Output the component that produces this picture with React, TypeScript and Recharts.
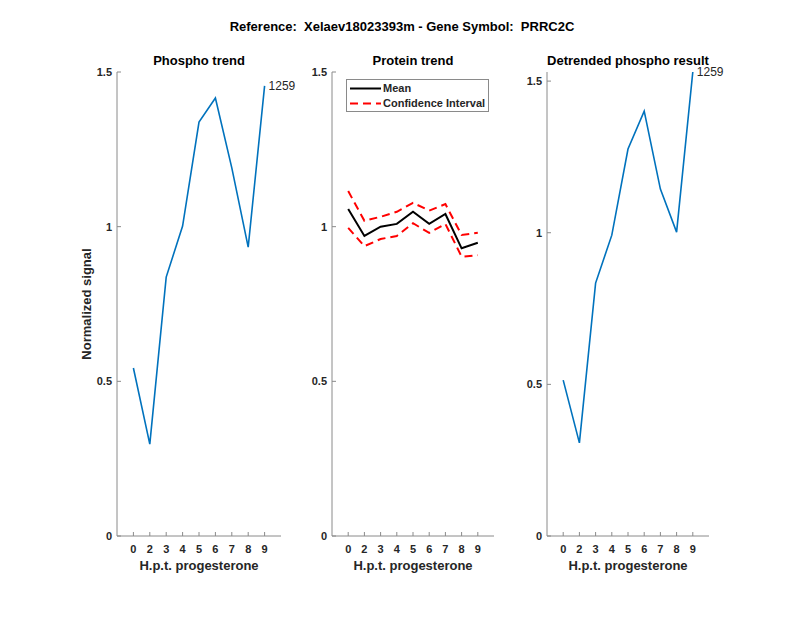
import React from "react";
import { LineChart, Line, XAxis, YAxis, Legend, LabelList } from "recharts";

// hours post treatment, shown as evenly spaced categories
const HOURS = ["0", "2", "3", "4", "5", "6", "7", "8", "9"];
const PHOSPHO = [0.543, 0.297, 0.837, 1.002, 1.338, 1.416, 1.19, 0.934, 1.455];
const PROTEIN_MEAN = [1.057, 0.97, 1.0, 1.009, 1.048, 1.009, 1.041, 0.93, 0.948];
const PROTEIN_UPPER = [1.115, 1.019, 1.032, 1.048, 1.077, 1.052, 1.073, 0.973, 0.98];
const PROTEIN_LOWER = [0.996, 0.937, 0.96, 0.97, 1.011, 0.98, 1.009, 0.903, 0.908];
const DETRENDED = [0.514, 0.307, 0.834, 0.992, 1.276, 1.401, 1.144, 1.002, 1.53];
const Y_TICKS = [0, 0.5, 1, 1.5];
const PEPTIDE = "1259";

const FONT = '"Liberation Sans", Arial, Helvetica, sans-serif';
const AXIS = "#8a8a8a";
const INK = "#262626";
const BLUE = "#0072BD";
const DASH = "8 5";

const rows = HOURS.map((h, i) => ({
  pos: i + 1,
  hour: h,
  phospho: PHOSPHO[i],
  mean: PROTEIN_MEAN[i],
  upper: PROTEIN_UPPER[i],
  lower: PROTEIN_LOWER[i],
  detrended: DETRENDED[i],
}));
const LAST = rows.length - 1;

// matlab style ticks point into the axes
function XTick(props: any) {
  const { x, y, payload } = props;
  return (
    <g>
      <line x1={x} x2={x} y1={y} y2={y - 4} stroke={AXIS} />
      <text x={x} y={y + 17} textAnchor="middle" fontSize={11} fontWeight="bold" fill={INK} fontFamily={FONT}>
        {HOURS[payload.value - 1]}
      </text>
    </g>
  );
}

function YTick(props: any) {
  const { x, y, payload } = props;
  return (
    <g>
      <line x1={x} x2={x + 4} y1={y} y2={y} stroke={AXIS} />
      <text x={x - 5} y={y + 4} textAnchor="end" fontSize={11} fontWeight="bold" fill={INK} fontFamily={FONT}>
        {String(payload.value)}
      </text>
    </g>
  );
}

function EndLabel(props: any) {
  const { x, y, index } = props;
  if (index !== LAST) return null;
  return (
    <text x={x + 4} y={y + 4} fontSize={12} fill={INK} fontFamily={FONT}>
      {PEPTIDE}
    </text>
  );
}

// only mean + upper band go in the legend, mean first
function CiLegend({ payload }: any) {
  const list = payload || [];
  const items = ["mean", "upper"].map((k) => list.find((p: any) => p.dataKey === k)).filter(Boolean);
  return (
    <div
      style={{
        border: `1px solid ${AXIS}`,
        background: "#fff",
        width: 143,
        height: 33,
        paddingTop: 1,
        boxSizing: "border-box",
        fontFamily: FONT,
        fontSize: 11,
        fontWeight: "bold",
        color: INK,
        whiteSpace: "nowrap",
      }}
    >
      {items.map((p: any) => (
        <div key={p.dataKey} style={{ display: "flex", alignItems: "center", height: 15 }}>
          <svg width={36} height={15} style={{ flex: "none" }}>
            <line
              x1={3}
              x2={34}
              y1={7.5}
              y2={7.5}
              stroke={p.color}
              strokeWidth={2}
              strokeDasharray={p.dataKey === "upper" ? DASH : undefined}
            />
          </svg>
          <span style={{ lineHeight: "15px" }}>{p.value}</span>
        </div>
      ))}
    </div>
  );
}

function xAxis() {
  return (
    <XAxis
      dataKey="pos"
      type="number"
      domain={[0, 10]}
      ticks={rows.map((r) => r.pos)}
      interval={0}
      height={44}
      tickSize={0}
      tickMargin={0}
      tick={<XTick />}
      axisLine={{ stroke: AXIS }}
      label={{ value: "H.p.t. progesterone", position: "insideBottom", offset: 10, fontSize: 13, fontWeight: "bold", fill: INK, fontFamily: FONT }}
    />
  );
}

function yAxis(width: number, max: number) {
  return (
    <YAxis
      type="number"
      domain={[0, max]}
      ticks={Y_TICKS}
      interval={0}
      width={width}
      tickSize={0}
      tickMargin={0}
      tick={<YTick />}
      axisLine={{ stroke: AXIS }}
      allowDataOverflow
    />
  );
}

const titleStyle: React.CSSProperties = {
  position: "absolute",
  fontFamily: FONT,
  fontSize: 13,
  fontWeight: "bold",
  color: "#000",
  lineHeight: "13px",
  whiteSpace: "pre",
  textAlign: "center",
  transform: "translateX(-50%)",
};

export default function App() {
  return (
    <div style={{ position: "absolute", left: 0, top: 0, width: 800, height: 618, background: "#fff", overflow: "hidden" }}>
      <div style={{ ...titleStyle, left: 402, top: 20 }}>Reference:  Xelaev18023393m - Gene Symbol:  PRRC2C</div>
      <div style={{ ...titleStyle, left: 199, top: 54 }}>Phospho trend</div>
      <div style={{ ...titleStyle, left: 413, top: 54 }}>Protein trend</div>
      <div style={{ ...titleStyle, left: 628, top: 54 }}>Detrended phospho result</div>
      <div
        style={{
          ...titleStyle,
          color: INK,
          left: 86,
          top: 304,
          transform: "translate(-50%, -50%) rotate(-90deg)",
        }}
      >
        Normalized signal
      </div>

      <div style={{ position: "absolute", left: 60, top: 40 }}>
        <LineChart width={240} height={540} data={rows} margin={{ top: 32, right: 19, bottom: 0, left: 0 }}>
          {xAxis()}
          {yAxis(57, 1.5)}
          <Line dataKey="phospho" stroke={BLUE} strokeWidth={1.6} dot={false} isAnimationActive={false}>
            <LabelList dataKey="phospho" content={<EndLabel />} />
          </Line>
        </LineChart>
      </div>

      <div style={{ position: "absolute", left: 300, top: 40 }}>
        <LineChart width={210} height={540} data={rows} margin={{ top: 32, right: 16, bottom: 0, left: 0 }}>
          {xAxis()}
          {yAxis(32, 1.5)}
          <Legend
            layout="vertical"
            align="center"
            verticalAlign="middle"
            content={<CiLegend />}
            wrapperStyle={{ position: "absolute", left: 46, top: 39, width: 143, height: 33 }}
          />
          <Line dataKey="mean" name="Mean" stroke="#000" strokeWidth={2} dot={false} isAnimationActive={false} />
          <Line
            dataKey="upper"
            name="Confidence Interval"
            stroke="#ff0000"
            strokeWidth={2}
            strokeDasharray={DASH}
            dot={false}
            isAnimationActive={false}
          />
          <Line
            dataKey="lower"
            name="Confidence Interval (lower)"
            legendType="none"
            stroke="#ff0000"
            strokeWidth={2}
            strokeDasharray={DASH}
            dot={false}
            isAnimationActive={false}
          />
        </LineChart>
      </div>

      <div style={{ position: "absolute", left: 510, top: 40 }}>
        <LineChart width={220} height={540} data={rows} margin={{ top: 32, right: 21, bottom: 0, left: 0 }}>
          {xAxis()}
          {yAxis(37, 1.53)}
          <Line dataKey="detrended" stroke={BLUE} strokeWidth={1.6} dot={false} isAnimationActive={false}>
            <LabelList dataKey="detrended" content={<EndLabel />} />
          </Line>
        </LineChart>
      </div>
    </div>
  );
}
